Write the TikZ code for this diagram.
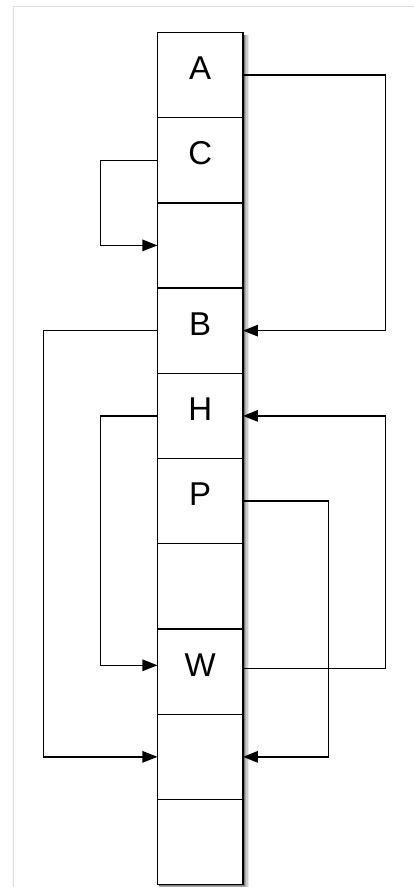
\documentclass[tikz,border=0pt]{standalone}
\usepackage{fontspec}
\setmainfont{Liberation Sans}
\usetikzlibrary{arrows.meta}
\begin{document}
\begin{tikzpicture}[x=1pt,y=-1pt,
  cell/.style={draw=black,line width=1.4pt,fill=white,minimum width=85.5pt,minimum height=85.2pt,inner sep=0pt,outer sep=0pt},
  lbl/.style={anchor=base,font=\fontsize{33}{36}\selectfont,inner sep=0pt},
  conn/.style={draw=black,line width=1.3pt,-{Triangle[length=15pt,width=11.5pt]}},
  plain/.style={draw=black,line width=1.3pt}]
\useasboundingbox (0,0) rectangle (414,887);
\fill[white] (0,0) rectangle (414,887);
\draw[color=black!13,line width=1pt] (13,887) -- (13,6) -- (414,6);
% shadow
\fill[black,opacity=0.08] (159,35) rectangle (249,887);
\fill[black,opacity=0.12] (159,35) rectangle (247.5,887);
\fill[black,opacity=0.18] (159,35) rectangle (246.3,886.8);
\fill[black,opacity=0.25] (159,35) rectangle (245.2,886.3);
% cells
\foreach \i in {1,...,10}{
  \node[cell] (c\i) at (200.2,{32.3+85.24*(\i-0.5)}) {};
}
\node[lbl] (lA) at ([yshift=-47pt]c1.north) {A};
\node[lbl] (lC) at ([yshift=-47pt]c2.north) {C};
\node[lbl] (lB) at ([yshift=-47pt]c4.north) {B};
\node[lbl] (lH) at ([yshift=-47pt]c5.north) {H};
\node[lbl] (lP) at ([yshift=-47pt]c6.north) {P};
\node[lbl] (lW) at ([yshift=-47pt]c8.north) {W};
% connectors
\coordinate (rA) at (385.3,0);
\coordinate (rP) at (328.3,0);
\coordinate (lC1) at (100.3,0);
\coordinate (lB1) at (43.3,0);
\coordinate (Wl) at ([yshift=6.3pt]c8.west);
\coordinate (Wr) at ([yshift=3pt]c8.east);
\draw[conn] (c1.east) -- (c1.east -| rA) |- (c4.east);
\draw[conn] (c2.west) -- (c2.west -| lC1) |- (c3.west);
\draw[conn] (c4.west) -- (c4.west -| lB1) |- (c9.west);
\draw[conn] (c5.west) -- (c5.west -| lC1) |- (Wl);
\draw[conn] (Wr) -- (Wr -| rA) |- (c5.east);
\draw[conn] (c6.east) -- (c6.east -| rP) |- (c9.east);
\end{tikzpicture}
\end{document}
